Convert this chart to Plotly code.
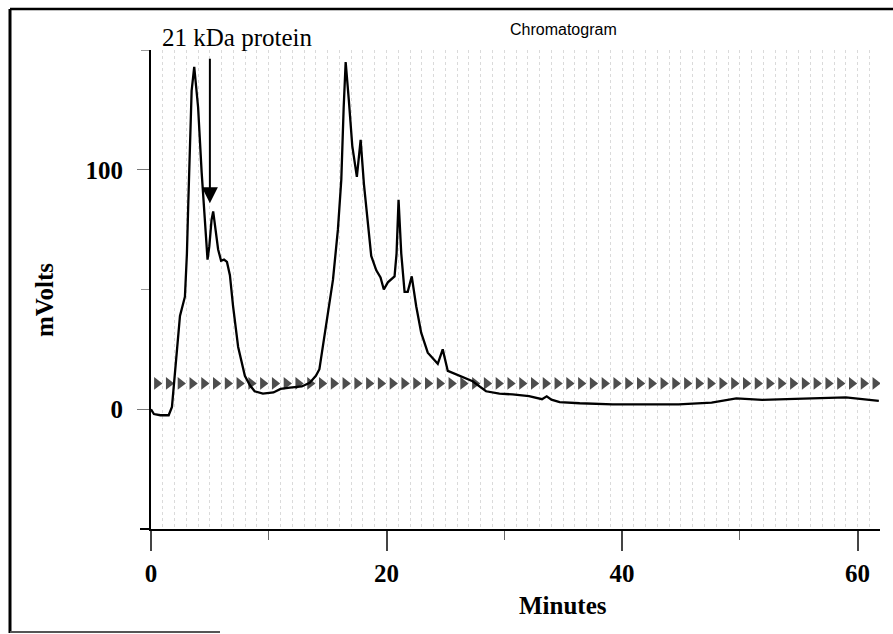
import plotly.graph_objects as go

# Chromatogram trace (minutes, mV)
minutes = [0, 0.25, 0.8, 1.5, 1.78, 2.03, 2.29, 2.46, 2.88, 3.05, 3.16, 3.3, 3.45, 3.67,
           3.85, 4.0, 4.3, 4.58, 4.8, 4.95, 5.14, 5.28, 5.45, 5.7, 5.95, 6.2, 6.45, 6.7,
           6.97, 7.4, 7.97, 8.4, 8.8, 9.5, 10.4, 11.0, 11.8, 12.8, 13.47, 14.0, 14.3,
           14.89, 15.45, 15.87, 16.16, 16.36, 16.53, 16.8, 17.09, 17.48, 17.8, 18.08,
           18.42, 18.7, 19.13, 19.49, 19.77, 20.11, 20.68, 20.85, 21.02, 21.25, 21.53,
           21.8, 22.14, 22.52, 22.94, 23.5, 24.35, 24.77, 25.2, 26.19, 27.31, 28.45,
           29.58, 30.7, 32.1, 33.2, 33.6, 34.0, 34.7, 36.4, 39.2, 44.8, 47.6, 49.7,
           51.9, 56.1, 59.0, 61.8]
mvolts = [0, -2, -2.5, -2.5, 1, 15, 33, 39, 47, 65, 85, 112, 133, 143,
          135, 126, 99, 76, 62.5, 68, 79, 82.6, 77, 66.7, 62, 62.5, 61.5, 56,
          43, 26, 14, 10, 7.5, 6.5, 7, 8.5, 9, 9.5, 11, 14, 16.7,
          36, 54, 75, 96, 126, 145, 129, 110, 97, 112.5, 94,
          78, 64, 58, 55, 50, 53, 55.5, 65, 87.5, 65, 49,
          49, 55.5, 43, 32, 23.6, 19, 25, 16, 14, 11.7, 7.5,
          6.5, 6.2, 5.5, 4.2, 5.4, 4, 3, 2.5, 2, 2, 2.8, 4.5,
          3.9, 4.5, 5, 3.5]

# Event markers (one per minute) at a constant level
event_minutes = [0.5, 1.5, 2.5, 3.5, 4.5, 5.5, 6.5, 7.5, 8.5, 9.5, 10.5, 11.5, 12.5,
                 13.5, 14.5, 15.5, 16.5, 17.5, 18.5, 19.5, 20.5, 21.5, 22.5, 23.5,
                 24.5, 25.5, 26.5, 27.5, 28.5, 29.5, 30.5, 31.5, 32.5, 33.5, 34.5,
                 35.5, 36.5, 37.5, 38.5, 39.5, 40.5, 41.5, 42.5, 43.5, 44.5, 45.5,
                 46.5, 47.5, 48.5, 49.5, 50.5, 51.5, 52.5, 53.5, 54.5, 55.5, 56.5,
                 57.5, 58.5, 59.5, 60.5, 61.5]
event_level = [10.8] * len(event_minutes)

x_ticks = [0, 20, 40, 60]
x_tick_labels = ["0", "20", "40", "60"]
y_ticks = [0, 100]
y_tick_labels = ["0", "100"]

# pixel geometry helpers (plot area 151..880 x 50..529)
L, R, T, B = 151, 880, 50, 529
W, H = 893, 634
def px(xp):
    return (xp - L) / (R - L)
def py(yp):
    return (B - yp) / (B - T)

serif = "Liberation Serif, Times New Roman, serif"
sans = "Liberation Sans, Arial, sans-serif"

fig = go.Figure()
fig.add_trace(go.Scatter(
    x=event_minutes, y=event_level, mode="markers",
    marker=dict(symbol="triangle-right", size=11, color="#4d4d4d",
                line=dict(width=0)),
    hoverinfo="skip", showlegend=False))
fig.add_trace(go.Scatter(
    x=minutes, y=mvolts, mode="lines",
    line=dict(color="black", width=2.3),
    showlegend=False))
# hidden trace on the grid axis
fig.add_trace(go.Scatter(x=[0], y=[0], xaxis="x2", mode="markers",
                         marker=dict(opacity=0), hoverinfo="skip", showlegend=False))

fig.update_layout(
    width=W, height=H,
    margin=dict(l=L, r=W - R, t=T, b=H - B),
    paper_bgcolor="white", plot_bgcolor="white",
    font=dict(family=serif, color="black"),
    xaxis=dict(range=[0, 61.9], tickmode="array", tickvals=x_ticks,
               ticktext=["<b>%s</b>" % t for t in x_tick_labels],
               ticks="outside", ticklen=20, tickwidth=1.5, tickcolor="#444",
               showline=True, linecolor="black", linewidth=2,
               showgrid=False, zeroline=False,
               minor=dict(tickvals=[10, 30, 50], ticks="outside", ticklen=9,
                          tickcolor="#666", tickwidth=1),
               tickfont=dict(family=serif, size=25, color="black"),
               ticklabelstandoff=1),
    xaxis2=dict(range=[0, 61.9], overlaying="x", side="top", dtick=1, tick0=0,
                showgrid=True, gridcolor="#dadada", griddash="dot", gridwidth=1,
                showticklabels=False, ticks="", showline=False, zeroline=False),
    yaxis=dict(range=[-50, 150], tickmode="array", tickvals=y_ticks,
               ticktext=["<b>%s</b>" % t for t in y_tick_labels],
               ticks="outside", ticklen=12, tickwidth=1, tickcolor="#777",
               showline=True, linecolor="black", linewidth=2,
               showgrid=False, zeroline=False,
               minor=dict(tickvals=[-50, 50, 150], ticks="outside", ticklen=8,
                          tickcolor="#999", tickwidth=1),
               tickfont=dict(family=serif, size=25, color="black"),
               ticklabelstandoff=9),
    annotations=[
        dict(x=5.0, y=86, ax=5.0, ay=147, xref="x", yref="y", axref="x", ayref="y",
             text="", showarrow=True, arrowhead=2, arrowsize=1.6, arrowwidth=2,
             arrowcolor="black", standoff=0, startstandoff=0),
        dict(x=px(237), y=py(37), xref="paper", yref="paper", text="21 kDa protein",
             showarrow=False, font=dict(family=serif, size=25, color="black"),
             xanchor="center", yanchor="middle"),
        dict(x=px(563), y=py(30), xref="paper", yref="paper", text="Chromatogram",
             showarrow=False, font=dict(family=sans, size=16, color="black"),
             xanchor="center", yanchor="middle"),
        dict(x=px(563), y=py(605), xref="paper", yref="paper", text="<b>Minutes</b>",
             showarrow=False, font=dict(family=serif, size=25, color="black"),
             xanchor="center", yanchor="middle"),
        dict(x=px(44), y=py(300), xref="paper", yref="paper", text="<b>mVolts</b>",
             showarrow=False, textangle=-90, font=dict(family=serif, size=25, color="black"),
             xanchor="center", yanchor="middle"),
    ],
    shapes=[
        dict(type="line", xref="paper", yref="paper", x0=px(10), x1=px(10), y0=py(633), y1=py(9),
             line=dict(color="black", width=3)),
        dict(type="line", xref="paper", yref="paper", x0=px(10), x1=px(893), y0=py(9), y1=py(9),
             line=dict(color="black", width=2.5)),
        dict(type="line", xref="paper", yref="paper", x0=px(10), x1=px(220), y0=py(632), y1=py(632),
             line=dict(color="#555", width=2)),
        dict(type="line", xref="paper", yref="paper", x0=px(140), x1=px(151), y0=py(529), y1=py(529),
             line=dict(color="black", width=2)),
    ],
)

fig.write_html("out.html", config={"displayModeBar": False})

# remove the browser's default page margin so the figure sits at (0, 0)
with open("out.html", "r", encoding="utf-8") as f:
    html = f.read()
html = html.replace("<body>", '<body style="margin:0;padding:0;overflow:hidden">', 1)
with open("out.html", "w", encoding="utf-8") as f:
    f.write(html)
